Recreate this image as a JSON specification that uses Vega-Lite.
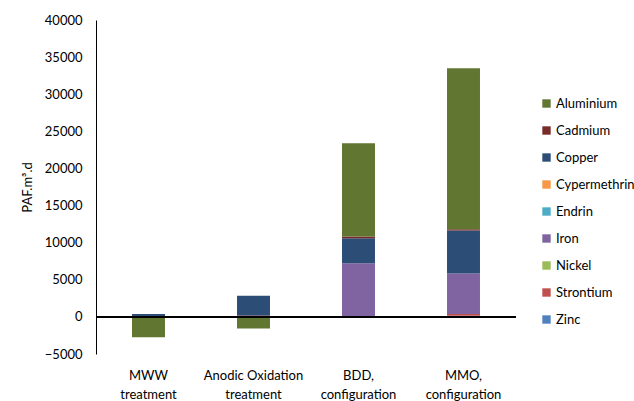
{
  "$schema": "https://vega.github.io/schema/vega-lite/v6.json",
  "autosize": "none",
  "width": 420,
  "height": 334,
  "padding": {"left": 96, "top": 20, "right": 118, "bottom": 47},
  "background": "white",
  "config": {
    "font": "Lato",
    "view": {"stroke": null},
    "axis": {"labelOverlap": false}
  },
  "data": {
    "values": [
      {"group": "MWW treatment", "metal": "Copper", "value": 400},
      {"group": "MWW treatment", "metal": "Aluminium", "value": -2750},
      {"group": "Anodic Oxidation treatment", "metal": "Copper", "value": 2720},
      {"group": "Anodic Oxidation treatment", "metal": "Strontium", "value": 140},
      {"group": "Anodic Oxidation treatment", "metal": "Aluminium", "value": -1580},
      {"group": "BDD, configuration", "metal": "Strontium", "value": -120},
      {"group": "BDD, configuration", "metal": "Iron", "value": 7230},
      {"group": "BDD, configuration", "metal": "Copper", "value": 3380},
      {"group": "BDD, configuration", "metal": "Cadmium", "value": 220},
      {"group": "BDD, configuration", "metal": "Aluminium", "value": 12570},
      {"group": "MMO, configuration", "metal": "Zinc", "value": 150},
      {"group": "MMO, configuration", "metal": "Strontium", "value": 250},
      {"group": "MMO, configuration", "metal": "Iron", "value": 5440},
      {"group": "MMO, configuration", "metal": "Copper", "value": 5790},
      {"group": "MMO, configuration", "metal": "Cadmium", "value": 190},
      {"group": "MMO, configuration", "metal": "Aluminium", "value": 21680}
    ]
  },
  "layer": [
    {
      "mark": {"type": "bar"},
      "encoding": {
        "x": {
          "field": "group",
          "type": "nominal",
          "sort": ["MWW treatment", "Anodic Oxidation treatment", "BDD, configuration", "MMO, configuration"],
          "scale": {"paddingInner": 0.686, "paddingOuter": 0.343},
          "axis": {
            "title": null,
            "labelAngle": 0,
            "domain": false,
            "ticks": false,
            "labelPadding": 15,
            "labelFontSize": 13,
            "labelColor": "#000000",
            "labelLineHeight": 19,
            "labelOverlap": false,
            "labelExpr": "datum.label == 'Anodic Oxidation treatment' ? ['Anodic Oxidation', 'treatment'] : split(datum.label, ' ')"
          }
        },
        "y": {
          "field": "value",
          "type": "quantitative",
          "stack": "zero",
          "scale": {"domain": [-5000, 40000], "nice": false, "zero": false},
          "axis": {
            "title": "PAF.m³.d",
            "titleFontSize": 13,
            "titleFontWeight": "normal",
            "titleColor": "#000000",
            "titleX": -62,
            "titlePadding": 0,
            "tickCount": 9,
            "format": "d",
            "grid": false,
            "ticks": false,
            "labelOverlap": false,
            "labelFlush": false,
            "labelPadding": 14,
            "labelFontSize": 13,
            "labelColor": "#000000",
            "domainColor": "#000000"
          }
        },
        "color": {
          "field": "metal",
          "type": "nominal",
          "scale": {
            "domain": ["Aluminium", "Cadmium", "Copper", "Cypermethrin", "Endrin", "Iron", "Nickel", "Strontium", "Zinc"],
            "range": ["#607631", "#772C2A", "#2C4D75", "#F79646", "#4BACC6", "#8064A2", "#9BBB59", "#C0504D", "#4F81BD"]
          },
          "legend": {
            "title": null,
            "orient": "none",
            "legendX": 444,
            "legendY": 77,
            "symbolType": "square",
            "symbolSize": 70,
            "symbolStrokeWidth": 0,
            "labelFontSize": 13,
            "labelColor": "#000000",
            "rowPadding": 13,
            "labelOffset": 3
          }
        },
        "order": {"field": "metal", "sort": "descending"}
      }
    },
    {
      "mark": {"type": "rule", "color": "#000000", "strokeWidth": 1},
      "encoding": {"y": {"datum": 0, "type": "quantitative"}}
    }
  ]
}
